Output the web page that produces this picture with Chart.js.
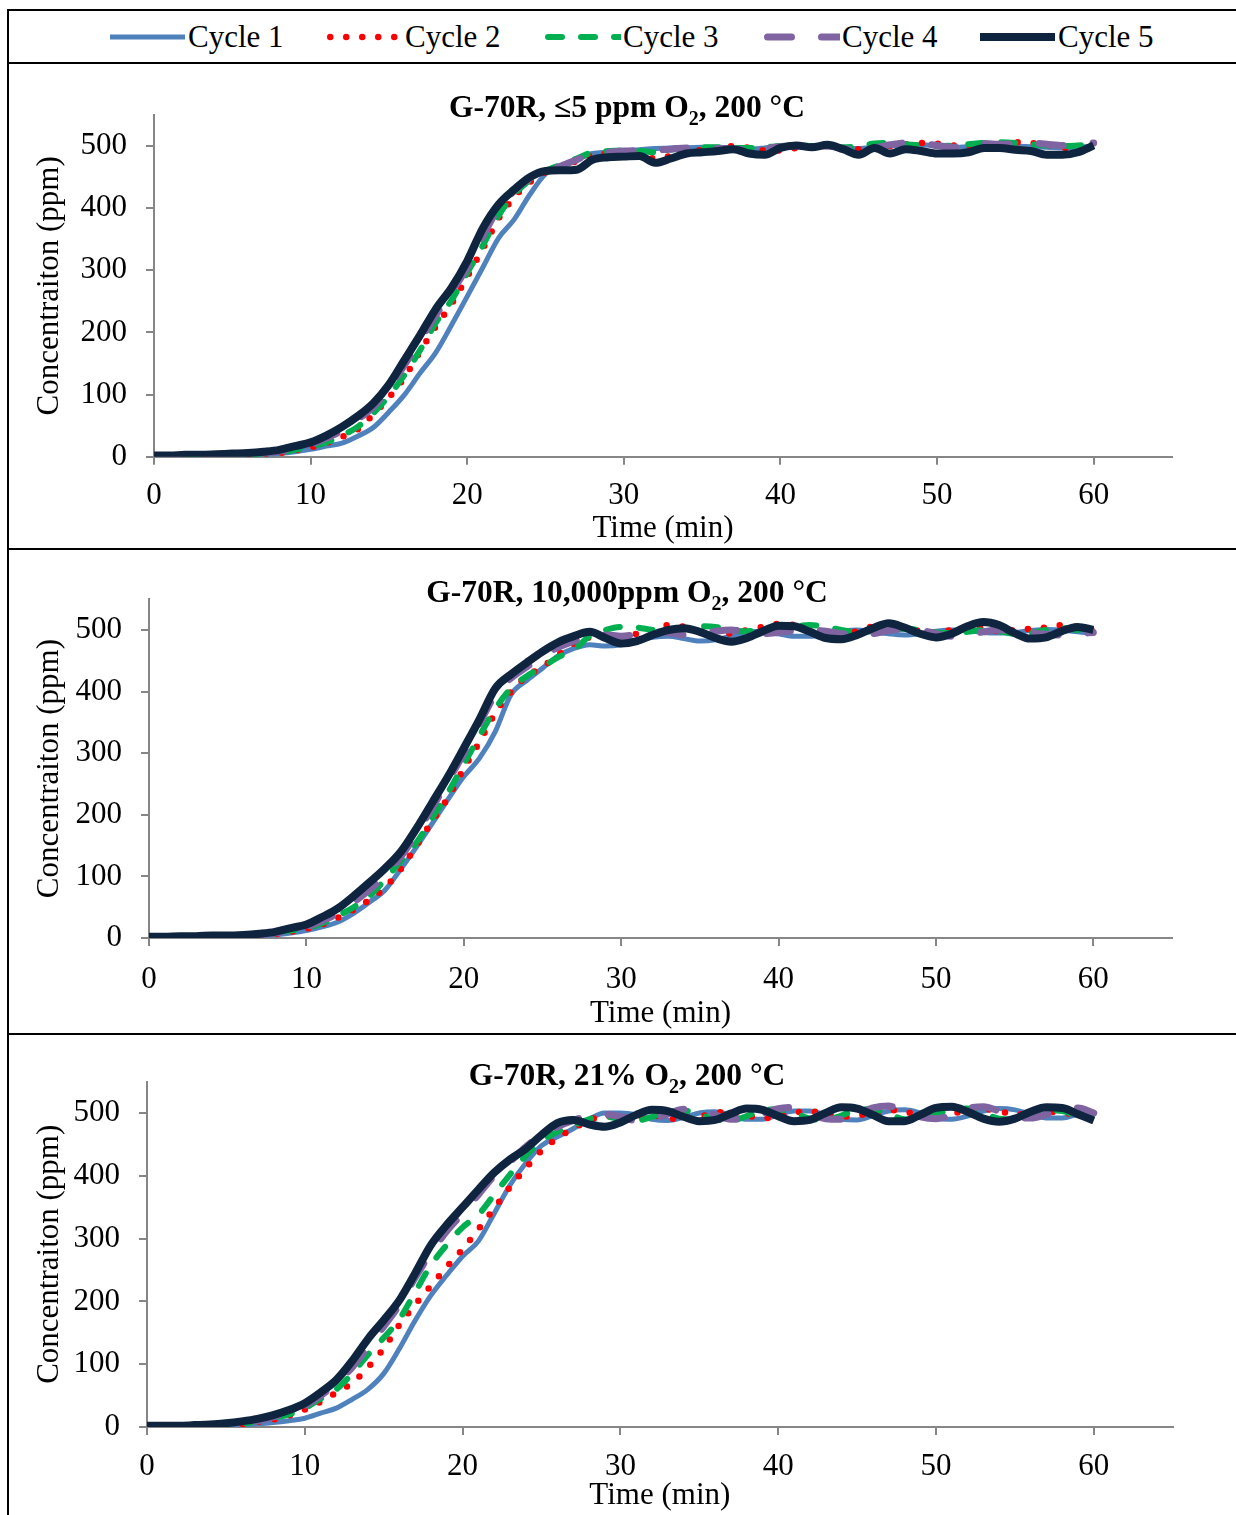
<!DOCTYPE html>
<html>
<head>
<meta charset="utf-8">
<script src="https://cdn.jsdelivr.net/npm/chart.js@4.4.1/dist/chart.umd.min.js"></script>
<style>
html,body{margin:0;padding:0;background:#fff;}
#page{position:relative;width:1236px;height:1515px;overflow:hidden;font-family:'Liberation Serif','Times New Roman',serif;color:#000;background:#fff;}
.hl{position:absolute;background:#000;}
canvas.cv{position:absolute;left:10px;}
.ttl{position:absolute;left:0;width:1254px;text-align:center;font-weight:bold;font-size:31.5px;line-height:36px;white-space:nowrap;}
.ttl .s{font-size:20px;position:relative;top:8px;line-height:0;}
.lg{position:absolute;top:19px;height:36px;display:flex;align-items:center;font-size:31px;line-height:36px;white-space:nowrap;}
.lg svg{display:block;margin-right:2px;}
</style>
</head>
<body>
<div id="page">
  <div class="hl" style="left:8px;top:9px;width:1228px;height:2px"></div>
  <div class="hl" style="left:7px;top:9px;width:2px;height:1506px"></div>
  <div class="hl" style="left:8px;top:62px;width:1228px;height:2px"></div>
  <div class="hl" style="left:8px;top:548px;width:1228px;height:2px"></div>
  <div class="hl" style="left:8px;top:1033px;width:1228px;height:2px"></div>
  <div id="legend"></div>

  <canvas class="cv" id="c1" width="1226" height="483" style="top:65px"></canvas>
  <canvas class="cv" id="c2" width="1226" height="482" style="top:551px"></canvas>
  <canvas class="cv" id="c3" width="1226" height="479" style="top:1036px"></canvas>

  <div class="ttl" style="top:89px">G-70R, ≤5 ppm O<span class="s">2</span>, 200 °C</div>
  <div class="ttl" style="top:574px">G-70R, 10,000ppm O<span class="s">2</span>, 200 °C</div>
  <div class="ttl" style="top:1057px">G-70R, 21% O<span class="s">2</span>, 200 °C</div>
</div>
<script>
// ---------- data ----------
const minutes = [0,1,2,3,4,5,6,7,8,9,10,11,12,13,14,15,16,17,18,19,20,21,22,23,24,25,26,27,28,29,30,31,32,33,34,35,36,37,38,39,40,41,42,43,44,45,46,47,48,49,50,51,52,53,54,55,56,57,58,59,60];
const cycleLabels = ['Cycle 1','Cycle 2','Cycle 3','Cycle 4','Cycle 5'];
const xAxisTitle = 'Time (min)';
const yAxisTitle = 'Concentraiton (ppm)';

// Panel 1: G-70R, <=5 ppm O2
const p1Cycle1 = [0,0,1,1,1,2,2,3,5,8, 12,17,22,33,47,72,100,135,168,212, 258,305,352,382,422,455,468,478,488, 490,492,494,496,497,497,498,498,497,495,497,500,501,500,499,497,496,498,500,502,502,500,498,499,501,502,500,499,498,497,498,500];
const p1Cycle2 = [0,0,1,1,1,2,3,4,6,10, 15,22,32,44,68,95,128,170,210,246, 290,335,383,418,442,458,466,476,486, 488,490,486,480,484,490,494,497,500,497,493,493,497,499,500,497,495,498,500,503,505,504,501,500,502,504,506,505,502,498,493,492];
const p1Cycle3 = [0,0,1,1,2,2,3,5,7,11, 16,23,34,48,70,98,132,172,216,252, 296,340,388,422,445,460,470,480,490, 492,493,492,490,494,497,498,498,497,497,498,500,501,500,499,498,500,504,505,503,501,500,501,503,505,506,505,503,501,500,501,503];
const p1Cycle4 = [1,1,2,2,3,3,4,6,9,14, 20,30,42,60,80,110,148,188,228,265, 305,355,400,428,448,460,468,478,488, 490,492,493,494,495,497,497,496,495,494,496,499,500,499,500,496,494,497,502,505,504,501,498,499,504,503,504,505,503,501,503,505];
const p1Cycle5 = [2,2,3,3,4,5,6,8,11,17, 23,34,48,65,86,116,156,196,238,272, 315,368,406,430,450,460,461,462,478, 482,483,484,473,480,488,490,492,495,488,486,497,501,498,502,495,486,497,488,495,492,488,488,490,497,497,494,492,486,486,490,501];

// Panel 2: G-70R, 10,000 ppm O2
const p2Cycle1 = [0,0,0,1,1,1,2,3,5, 8,12,18,26,40,58,78,112,148,186,225,262,292,335,395,418,438,458,470,476,474,476, 482,488,490,486,482,484,490,496,498,494,490,490,494,498,500,497,494,492,494,498,500,499,496,495,496,499,501,500,497,495];
const p2Cycle2 = [0,0,1,1,1,2,2,4,6, 10,15,22,33,46,62,82,112,150,190,228,275,318,365,400,425,440,460,478,488,490,490, 494,500,508,505,498,492,495,500,505,510,508,500,494,493,498,506,510,505,498,496,500,505,502,498,500,502,504,508,505,500];
const p2Cycle3 = [1,1,1,2,2,3,4,6,9, 12,16,24,36,50,68,95,125,155,195,236,282,328,372,405,425,440,456,468,490,500,505, 504,500,498,503,506,505,500,498,502,505,506,508,505,500,497,498,500,502,500,496,495,497,500,498,494,495,500,503,500,498];
const p2Cycle4 = [1,1,2,2,3,3,4,6,8, 12,18,28,40,58,78,102,132,170,212,255,300,348,395,422,440,458,472,482,490,492,490, 493,497,496,492,494,498,500,497,494,496,499,500,498,494,492,494,499,502,500,494,490,492,497,500,499,496,493,492,494,496];
const p2Cycle5 = [2,2,3,3,4,4,5,7,10, 16,22,34,48,68,90,113,140,178,220,262,308,355,405,428,447,465,480,490,497,487,478, 482,492,500,503,497,487,481,487,498,507,506,497,487,485,492,503,511,504,494,488,494,506,513,508,495,486,488,498,505,500];

// Panel 3: G-70R, 21% O2
const p3Cycle1 = [0,0,0,1,1,2,3,5,7,10,14,22,30,44,60,85,125,170,210,242,272,296,340,385,420,448,462,475,490,500, 500,497,490,488,493,500,502,496,490,490,497,503,503,497,490,489,496,503,505,500,492,490,495,503,507,505,498,492,492,498,502];
const p3Cycle2 = [0,0,0,1,1,2,4,8,12,18,28,40,55,70,95,125,163,195,225,255,283,315,348,382,412,440,460,475,488,495, 492,494,496,492,490,494,500,502,496,492,494,500,503,498,494,496,500,505,502,498,498,500,502,506,503,498,498,502,500,498,500];
const p3Cycle3 = [0,0,1,1,1,2,5,9,14,20,30,45,60,85,115,142,172,215,258,290,318,338,370,402,432,455,470,480,490,495, 490,488,494,502,504,498,490,488,495,504,506,500,491,489,496,505,506,498,490,489,497,506,507,500,491,490,497,505,503,497,500];
const p3Cycle4 = [1,1,2,2,3,3,6,10,16,24,34,50,70,95,128,160,195,238,278,312,340,370,400,422,446,465,478,488,496,498, 494,488,490,498,506,505,497,490,491,499,507,509,500,491,490,498,508,511,503,494,491,497,507,510,503,494,492,498,506,508,500];
const p3Cycle5 = [2,2,2,3,4,6,9,13,19,27,38,55,75,105,140,170,202,245,290,322,350,378,405,426,443,465,484,489, 482,478,485,497,505,503,494,487,489,499,507,505,495,487,489,500,509,507,497,487,487,497,508,510,502,491,486,491,502,509,508,498,488];

// ---------- styles ----------
const FONT = "'Liberation Serif', 'Times New Roman', serif";
const cycleColors = ['#4F81BD','#FF0000','#00B050','#8064A2','#0F243E'];
const cycleWidths = [5, 6.5, 6, 7, 8];
const cycleDashes = [[], [0, 16], [14, 19], [24, 30], []];
const cycleCaps = ['butt','round','round','round','butt'];

// legend
(function(){
  const lg = document.getElementById('legend');
  const lefts = [110, 327, 545, 764, 980];
  cycleLabels.forEach((lab, i) => {
    const d = document.createElement('div');
    d.className = 'lg';
    d.style.left = lefts[i] + 'px';
    const w = cycleWidths[i];
    const dash = cycleDashes[i].length ? `stroke-dasharray="${cycleDashes[i].join(' ')}"` : '';
    const x0 = cycleCaps[i] === 'round' ? w/2 : 0;
    d.innerHTML = `<svg width="76" height="12"><line x1="${x0}" y1="6" x2="75" y2="6" stroke="${cycleColors[i]}" stroke-width="${w}" stroke-linecap="${cycleCaps[i]}" ${dash}/></svg><span>${lab}</span>`;
    lg.appendChild(d);
  });
})();

function buildChart(id, series, g) {
  const tickFont = {family: FONT, size: 31};
  return new Chart(document.getElementById(id), {
    type: 'line',
    data: {
      datasets: series.map((vals, i) => ({
        label: cycleLabels[i],
        data: minutes.map((m, k) => ({x: m, y: vals[k]})),
        borderColor: cycleColors[i],
        backgroundColor: cycleColors[i],
        borderWidth: cycleWidths[i],
        borderDash: cycleDashes[i],
        borderCapStyle: cycleCaps[i],
        borderJoinStyle: 'round',
        pointRadius: 0,
        pointHoverRadius: 0,
        fill: false,
        cubicInterpolationMode: 'monotone',
        order: 5 - i
      }))
    },
    options: {
      responsive: false,
      animation: false,
      events: [],
      layout: {padding: {top: g.top, right: g.right, left: 0, bottom: 0}},
      plugins: {legend: {display: false}, title: {display: false}, tooltip: {enabled: false}},
      scales: {
        x: {
          type: 'linear', min: 0, max: 65,
          ticks: {stepSize: 10, includeBounds: false, padding: g.xPad, color: '#000', font: tickFont, maxRotation: 0, autoSkip: false},
          grid: {display: true, drawOnChartArea: false, drawTicks: true, tickLength: 8, color: '#868686', lineWidth: 2},
          border: {display: true, color: '#868686', width: 2},
          title: {display: true, text: xAxisTitle, color: '#000', font: tickFont, padding: {top: 0, bottom: g.xTitlePad}},
          afterFit: s => { s.height = g.xH; }
        },
        y: {
          type: 'linear', min: 0, max: 550,
          ticks: {stepSize: 100, includeBounds: false, padding: 19, color: '#000', font: tickFont},
          grid: {display: true, drawOnChartArea: false, drawTicks: true, tickLength: 8, color: '#868686', lineWidth: 2},
          border: {display: true, color: '#868686', width: 2},
          title: {display: true, text: yAxisTitle, color: '#000', font: tickFont, padding: {top: 21, bottom: 0}},
          afterFit: s => { s.width = g.yW; }
        }
      }
    }
  });
}

buildChart('c1', [p1Cycle1, p1Cycle2, p1Cycle3, p1Cycle4, p1Cycle5], {top: 50, right: 64, yW: 144, xH: 91.3, xPad: 13, xTitlePad: 0.4});
buildChart('c2', [p2Cycle1, p2Cycle2, p2Cycle3, p2Cycle4, p2Cycle5], {top: 48.2, right: 64, yW: 139, xH: 95, xPad: 15.4, xTitlePad: 0.4});
buildChart('c3', [p3Cycle1, p3Cycle2, p3Cycle3, p3Cycle4, p3Cycle5], {top: 45.6, right: 63.3, yW: 137, xH: 88, xPad: 13, xTitlePad: 0.4});
</script>
</body>
</html>
